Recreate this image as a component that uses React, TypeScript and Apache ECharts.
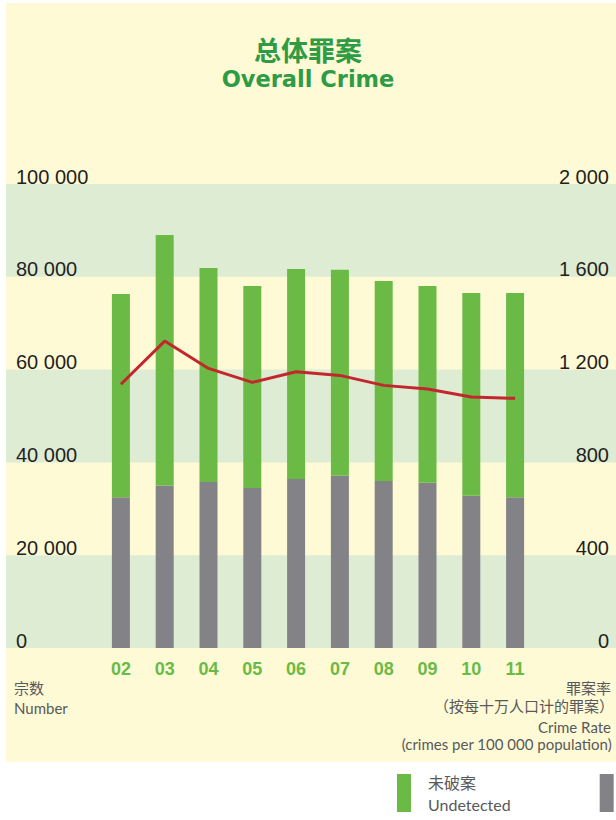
import React, { useEffect, useRef } from "react";
import * as echarts from "echarts";

const years = ["02", "03", "04", "05", "06", "07", "08", "09", "10", "11"];
const detected = [32500, 35000, 35800, 34500, 36400, 37100, 36000, 35600, 32800, 32500];
const undetected = [43800, 54000, 46100, 43500, 45300, 44400, 43100, 42400, 43700, 44000];
const crimeRate = [1137, 1323, 1205, 1145, 1191, 1175, 1132, 1116, 1082, 1076];
const leftTicks = { min: 0, max: 100000, interval: 20000 };
const rightTicks = { min: 0, max: 2000, interval: 400 };

const fmt = (v: number) => String(v).replace(/\B(?=(\d{3})+(?!\d))/g, " ");

const GREEN = "#6aba45";
const GREY = "#838387";
const RED = "#c4262e";
const BAND = "#dfecd4";
const YELLOW = "#fefad6";
const TEXT = "#231f20";
const SMALL = "#58595b";
const SANS = "'Lato', 'Noto Sans CJK SC', sans-serif";

export default function App() {
  const ref = useRef<HTMLDivElement>(null);
  useEffect(() => {
    if (!ref.current) return;
    const chart = echarts.init(ref.current, undefined, { renderer: "svg" });
    const top = 184;
    const bottom = 172;
    chart.setOption({
      animation: false,
      backgroundColor: "transparent",
      title: [
        {
          text: "总体罪案",
          left: "center",
          top: 31,
          textStyle: { fontFamily: "'Noto Sans CJK SC'", fontWeight: "bold", fontSize: 27, color: "#2e9b45" },
        },
        {
          text: "Overall Crime",
          left: "center",
          top: 62,
          textStyle: { fontFamily: "'DejaVu Sans'", fontWeight: "bold", fontSize: 22.5, color: "#2e9b45" },
        },
      ],
      legend: {
        left: 397,
        top: 766,
        width: 400,
        padding: 0,
        itemWidth: 14,
        itemHeight: 38,
        itemGap: 89,
        icon: "rect",
        data: ["Undetected", "Detected"],
        formatter: (n: string) => (n === "Undetected" ? "未破案\nUndetected" : ""),
        textStyle: {
          fontFamily: SANS,
          fontSize: 16,
          lineHeight: 22,
          color: SMALL,
          padding: [10, 0, 0, 12],
        },
      },
      grid: [
        { left: 99, right: 79, top, bottom },
        { left: 6, right: 0, top, bottom },
      ],
      xAxis: [
        {
          type: "category",
          data: years,
          gridIndex: 0,
          axisLine: { show: false },
          axisTick: { show: false },
          axisLabel: {
            margin: 12,
            color: GREEN,
            fontFamily: "'Liberation Sans', sans-serif",
            fontWeight: "bold",
            fontSize: 18,
          },
        },
        {
          type: "value",
          gridIndex: 1,
          min: 0,
          max: 1,
          axisLine: { show: false },
          axisTick: { show: false },
          axisLabel: { show: false },
          splitLine: { show: false },
        },
      ],
      yAxis: [
        {
          type: "value",
          gridIndex: 0,
          ...leftTicks,
          axisLine: { show: false },
          axisTick: { show: false },
          splitLine: { show: false },
          axisLabel: {
            formatter: (v: number) => fmt(v),
            align: "left",
            verticalAlign: "bottom",
            lineHeight: 15,
            margin: 83,
            color: TEXT,
            fontFamily: "'Liberation Sans', sans-serif",
            fontSize: 20,
          },
        },
        {
          type: "value",
          gridIndex: 0,
          position: "right",
          ...rightTicks,
          axisLine: { show: false },
          axisTick: { show: false },
          splitLine: { show: false },
          axisLabel: {
            formatter: (v: number) => fmt(v),
            align: "right",
            verticalAlign: "bottom",
            lineHeight: 15,
            margin: 72,
            color: TEXT,
            fontFamily: "'Liberation Sans', sans-serif",
            fontSize: 20,
          },
        },
        {
          type: "value",
          gridIndex: 1,
          ...leftTicks,
          axisLine: { show: false },
          axisTick: { show: false },
          axisLabel: { show: false },
          splitLine: { show: false },
          splitArea: { show: true, areaStyle: { color: [BAND, "rgba(0,0,0,0)"] } },
        },
      ],
      graphic: [
        { type: "text", left: 14, top: 680, style: { text: "宗数", font: `15px ${SANS}`, fill: SMALL } },
        { type: "text", left: 14, top: 700, style: { text: "Number", font: `15px ${SANS}`, fill: SMALL } },
        { type: "text", right: 5, top: 680, style: { text: "罪案率", font: `15px ${SANS}`, fill: SMALL } },
        { type: "text", right: 2, top: 698, style: { text: "（按每十万人口计的罪案）", font: `15px ${SANS}`, fill: SMALL } },
        { type: "text", right: 5, top: 719, style: { text: "Crime Rate", font: `15px ${SANS}`, fill: SMALL } },
        { type: "text", right: 4, top: 736, style: { text: "(crimes per 100 000 population)", font: `15px ${SANS}`, fill: SMALL } },
      ],
      series: [
        {
          name: "Detected",
          type: "bar",
          stack: "crime",
          xAxisIndex: 0,
          yAxisIndex: 0,
          barWidth: 18,
          itemStyle: { color: GREY },
          data: detected,
        },
        {
          name: "Undetected",
          type: "bar",
          stack: "crime",
          xAxisIndex: 0,
          yAxisIndex: 0,
          barWidth: 18,
          itemStyle: { color: GREEN },
          data: undetected,
        },
        {
          name: "Crime Rate",
          type: "line",
          xAxisIndex: 0,
          yAxisIndex: 1,
          showSymbol: false,
          symbol: "none",
          lineStyle: { color: RED, width: 3 },
          itemStyle: { color: RED },
          data: crimeRate,
          z: 5,
        },
      ],
    });
    return () => chart.dispose();
  }, []);
  return (
    <div style={{ position: "fixed", left: 0, top: 0, width: 616, height: 820, background: "#ffffff" }}>
      <div style={{ position: "absolute", left: 6, top: 3, width: 610, height: 759, background: YELLOW }} />
      <div ref={ref} style={{ position: "absolute", left: 0, top: 0, width: 616, height: 820 }} />
    </div>
  );
}
